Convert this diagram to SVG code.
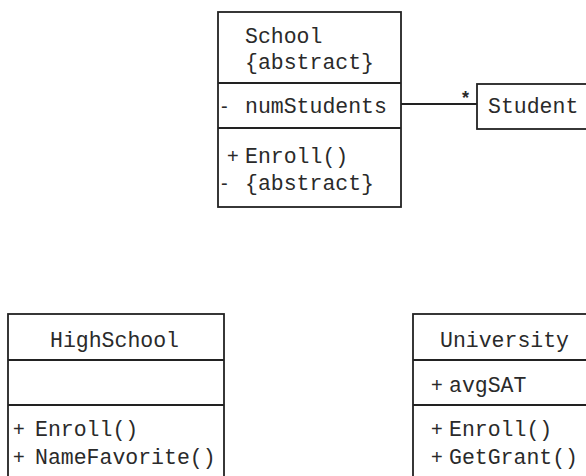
<svg xmlns="http://www.w3.org/2000/svg" width="586" height="476" viewBox="0 0 586 476">
<style>
.box{fill:#fff;stroke:#222;stroke-width:1.8}
.ln{stroke:#222;stroke-width:1.8;fill:none}
.t{font-family:"Liberation Mono","Courier New",monospace;font-size:21.5px;fill:#2a2a2a}
.p{font-family:"Liberation Sans",Arial,sans-serif;font-size:20px;fill:#2a2a2a}
</style>
<rect width="586" height="476" fill="#fff"/>
<g id="connectors">
<line class="ln" x1="401" y1="104" x2="477" y2="104"/>
<text class="p" x="462" y="104" style="font-weight:bold;font-size:18px">*</text>
</g>
<g id="School">
<rect class="box" x="218" y="12" width="183" height="195"/>
<line class="ln" x1="218" y1="83" x2="401" y2="83"/>
<line class="ln" x1="218" y1="128" x2="401" y2="128"/>
<text class="t" x="245" y="43">School</text>
<text class="t" x="245" y="69">{abstract}</text>
<text class="p" x="221" y="113">-</text>
<text class="t" x="245" y="113">numStudents</text>
<text class="p" x="227" y="163">+</text>
<text class="t" x="245" y="163">Enroll()</text>
<text class="p" x="221" y="190">-</text>
<text class="t" x="245" y="190">{abstract}</text>
</g>
<g id="Student">
<rect class="box" x="477" y="84" width="120" height="45"/>
<text class="t" x="488" y="113">Student</text>
</g>
<g id="HighSchool">
<rect class="box" x="8" y="314" width="216" height="180"/>
<line class="ln" x1="8" y1="360" x2="224" y2="360"/>
<line class="ln" x1="8" y1="405" x2="224" y2="405"/>
<text class="t" x="50" y="347">HighSchool</text>
<text class="p" x="13" y="436">+</text>
<text class="t" x="35" y="436">Enroll()</text>
<text class="p" x="13" y="464">+</text>
<text class="t" x="35" y="464">NameFavorite()</text>
</g>
<g id="University">
<rect class="box" x="413" y="314" width="190" height="180"/>
<line class="ln" x1="413" y1="360" x2="603" y2="360"/>
<line class="ln" x1="413" y1="405" x2="603" y2="405"/>
<text class="t" x="440" y="347">University</text>
<text class="p" x="431" y="392">+</text>
<text class="t" x="449" y="392">avgSAT</text>
<text class="p" x="431" y="436">+</text>
<text class="t" x="449" y="436">Enroll()</text>
<text class="p" x="431" y="464">+</text>
<text class="t" x="449" y="464">GetGrant()</text>
</g>
</svg>
